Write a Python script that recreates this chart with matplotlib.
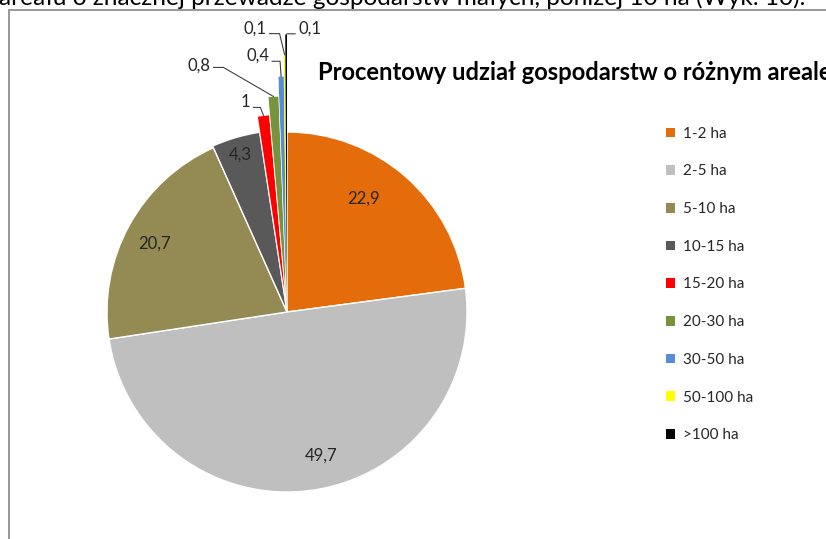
import numpy as np
import matplotlib
matplotlib.use("Agg")
import matplotlib.pyplot as plt
from matplotlib.patches import Rectangle, Patch

# data
categories = ["1-2 ha", "2-5 ha", "5-10 ha", "10-15 ha", "15-20 ha",
              "20-30 ha", "30-50 ha", "50-100 ha", ">100 ha"]
shares = [22.9, 49.7, 20.7, 4.3, 1, 0.8, 0.4, 0.1, 0.1]
colors = ["#E46C0A", "#BFBFBF", "#948A54", "#595959", "#FF0000",
          "#77933C", "#558ED5", "#FFFF00", "#000000"]
title = "Procentowy udział gospodarstw o różnym areale"
page_text = "areału o znacznej przewadze gospodarstw małych, poniżej 10 ha (Wyk. 10)."

# styling: the thin slices are drawn longer in the original
radius_scale = [1.0, 1.0, 1.0, 1.01, 1.10, 1.20, 1.31, 1.43, 1.54]
edge_width = [1.0, 1.0, 1.0, 1.0, 0.8, 0.6, 0.4, 0.0, 0.0]
inside = [True, True, True, True, False, False, False, False, False]
# inside labels: (distance from centre, position across the slice 0..1)
inside_pos = [(0.76, 0.41), (0.82, 0.47), (0.83, 0.48), (0.91, 0.48)]
# outside labels, px from the slice tip: elbow dx, elbow dy, line dx, text dy
leaders = [(-3, 8, -7, 5), (-50, 29, -10, 2), (-1, 15, -8, 6),
           (-5, 21, -10, 5), (1, 1, 8, 5)]

W, H = 826, 539
R = 180.0          # pie radius in px
cx, cy = 287, 312  # pie centre in px (from top-left)

plt.rcParams["font.family"] = ["Lato", "DejaVu Sans"]
fig = plt.figure(figsize=(W / 100, H / 100), dpi=100)
renderer = fig.canvas.get_renderer()


def fit_text(t, width_px):
    # scale font so the text spans the width seen in the reference
    w = t.get_window_extent(renderer=renderer).width
    t.set_fontsize(t.get_fontsize() * width_px / w)


# chart border (runs off the right and bottom edges)
fig.patches.append(Rectangle((9 / W, -0.1), 1.2, 1 - 10.5 / H + 0.1,
                             transform=fig.transFigure, fill=False,
                             edgecolor="#868686", linewidth=1.2))

# text of the page above the chart, cut off at the top
pt = fig.text(-1 / W, 1 - 5 / H, page_text, fontsize=15.5, va="baseline",
              ha="left", color="black")
fit_text(pt, 806)

side = 700.0
ax = fig.add_axes([(cx - side / 2) / W, 1 - (cy + side / 2) / H, side / W, side / H])
wedges, _ = ax.pie(shares, colors=colors, startangle=90, counterclock=False,
                   wedgeprops=dict(edgecolor="white", linewidth=1.0))
lim = side / 2 / R
ax.set_xlim(-lim, lim)
ax.set_ylim(-lim, lim)
ax.set_aspect("equal")
ax.axis("off")
for w, s, lw in zip(wedges, radius_scale, edge_width):
    w.set_radius(s)
    w.set_linewidth(lw)

px = 1.0 / R
k = 0
for w, v, s, ins in zip(wedges, shares, radius_scale, inside):
    lab = f"{v:g}".replace(".", ",")
    if ins:
        d, f = inside_pos[k]
        k += 1
        # slices run clockwise, so theta2 is the leading edge
        a = np.deg2rad(w.theta2 - f * (w.theta2 - w.theta1))
        ax.text(d * np.cos(a), d * np.sin(a), lab, ha="center", va="center",
                fontsize=12, color="#262626")
    else:
        mid = np.deg2rad((w.theta1 + w.theta2) / 2)
        tx, ty = s * np.cos(mid), s * np.sin(mid)
        ex, ey, ldx, tdy = leaders[k - 4]
        k += 1
        ex, ey = tx + ex * px, ty + ey * px
        hx = ex + ldx * px
        ax.plot([tx, ex, hx], [ty, ey, ey], color="#404040", lw=0.8,
                solid_joinstyle="miter")
        gap = 3 * px if ldx > 0 else -3 * px
        ax.text(hx + gap, ey + tdy * px, lab,
                ha="left" if ldx > 0 else "right", va="center",
                fontsize=12, color="#262626")

tt = fig.text(318 / W, 1 - 72 / H, title, fontsize=13, fontweight="bold",
              ha="left", va="center", color="black")
fit_text(tt, 514)

handles = [Patch(facecolor=c, edgecolor="none") for c in colors]
fig.legend(handles, categories, loc="upper left",
           bbox_to_anchor=(652 / W, 1 - 113 / H), frameon=False,
           fontsize=11, handlelength=0.6, handleheight=0.6, handletextpad=0.5,
           labelspacing=1.55, labelcolor="#262626")

fig.savefig("out.png", dpi=100)
